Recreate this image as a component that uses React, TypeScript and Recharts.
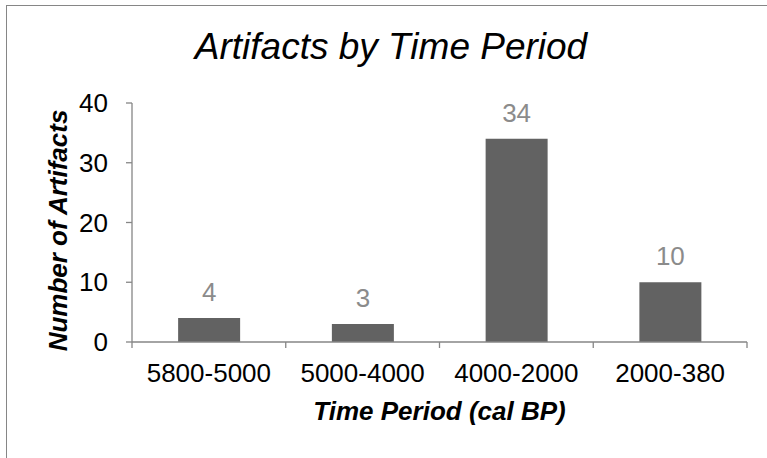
import React from "react";
import { BarChart, Bar, XAxis, YAxis, LabelList } from "recharts";

const categories = ["5800-5000", "5000-4000", "4000-2000", "2000-380"];
const artifactCounts = [4, 3, 34, 10];
const yTicks = [0, 10, 20, 30, 40];

const chartTitle = "Artifacts by Time Period";
const xTitle = "Time Period (cal BP)";
const yTitle = "Number of Artifacts";

const data = categories.map((c, i) => ({ period: c, count: artifactCounts[i] }));

const FONT = "'Liberation Sans', Arial, sans-serif";
const AXIS = "#868686";

const XTick = (props: any) => {
  const { x, y, payload, index } = props;
  const half = payload && typeof payload.offset === "number" ? payload.offset : 77;
  const last = index === categories.length - 1;
  return (
    <g>
      <line x1={x - half} x2={x - half} y1={y} y2={y + 6} stroke={AXIS} strokeWidth={1.3} />
      {last && <line x1={x + half} x2={x + half} y1={y} y2={y + 6} stroke={AXIS} strokeWidth={1.3} />}
      <text x={x} y={y + 40} textAnchor="middle" fontSize={26} fontFamily={FONT} fill="#000">
        {payload.value}
      </text>
    </g>
  );
};

const YTitle = (props: any) => {
  const vb = props.viewBox || { x: 0, y: 103, width: 132, height: 239 };
  const cx = 67;
  const cy = vb.y + vb.height / 2 + 8;
  return (
    <g>
      <text
        x={cx}
        y={cy}
        transform={`rotate(-90 ${cx} ${cy})`}
        textAnchor="middle"
        fontSize={26}
        fontWeight="bold"
        fontStyle="italic"
        fontFamily={FONT}
        fill="#000"
      >
        {yTitle}
      </text>
      <text x={391} y={59} textAnchor="middle" fontSize={37} fontStyle="italic" fontFamily={FONT} fill="#000">
        {chartTitle}
      </text>
    </g>
  );
};

const XTitle = (props: any) => {
  const vb = props.viewBox || { x: 132, y: 342, width: 615, height: 60 };
  return (
    <text
      x={vb.x + vb.width / 2}
      y={342 + 78}
      textAnchor="middle"
      fontSize={26}
      fontWeight="bold"
      fontStyle="italic"
      fontFamily={FONT}
      fill="#000"
    >
      {xTitle}
    </text>
  );
};

export default function App() {
  return (
    <div
      style={{
        position: "absolute",
        left: 0,
        top: 0,
        width: 767,
        height: 458,
        overflow: "hidden",
        background: "#fff",
      }}
    >
      <div
        style={{
          position: "absolute",
          left: 6,
          top: 5,
          width: 900,
          height: 700,
          border: `1px solid ${AXIS}`,
        }}
      />
      <div style={{ position: "absolute", left: 0, top: 0 }}>
        <BarChart
          width={767}
          height={458}
          data={data}
          margin={{ top: 103, right: 20, bottom: 56, left: 0 }}
          barCategoryGap="30%"
        >
          <XAxis
            dataKey="period"
            height={60}
            tickLine={false}
            tickSize={0}
            tickMargin={0}
            axisLine={{ stroke: AXIS, strokeWidth: 1.3 }}
            tick={<XTick />}
            interval={0}
            label={{ content: <XTitle /> } as any}
          />
          <YAxis
            width={132}
            domain={[0, 40]}
            ticks={yTicks}
            interval={0}
            tickSize={6}
            tickMargin={18}
            axisLine={{ stroke: AXIS, strokeWidth: 1.3 }}
            tickLine={{ stroke: AXIS, strokeWidth: 1.3 }}
            tick={{ fontSize: 26, fontFamily: FONT, fill: "#000" }}
            label={{ content: <YTitle /> } as any}
          />
          <Bar dataKey="count" fill="#626262" isAnimationActive={false}>
            <LabelList
              dataKey="count"
              position="top"
              offset={17}
              fontSize={26}
              fontFamily={FONT}
              fill="#8b8b8b"
            />
          </Bar>
        </BarChart>
      </div>
    </div>
  );
}
